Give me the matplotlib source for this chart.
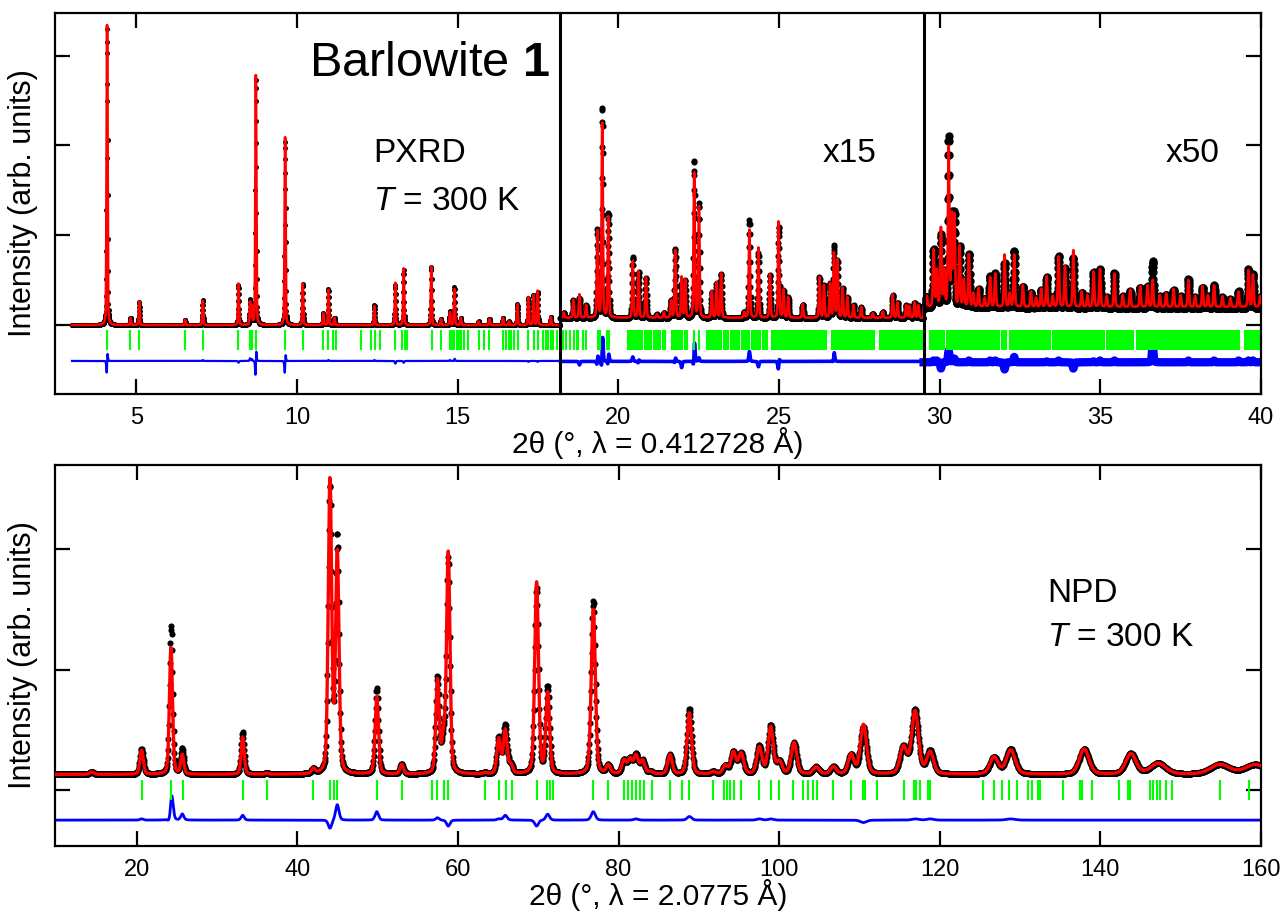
import numpy as np
import matplotlib
matplotlib.use("Agg")
import matplotlib.pyplot as plt
from matplotlib.ticker import MultipleLocator, NullFormatter

plt.rcParams['font.family'] = ['Liberation Sans', 'DejaVu Sans']
plt.rcParams['mathtext.fontset'] = 'custom'
plt.rcParams['mathtext.rm'] = 'Liberation Sans'
plt.rcParams['mathtext.it'] = 'Liberation Sans:italic'
plt.rcParams['mathtext.bf'] = 'Liberation Sans:bold'

# ------------------------------------------------------------------ PXRD data
# three display segments: 3-18.2 (x1), 18.2-29.5 (x15), 29.5-40 (x50)
seg_edges = [3.0, 18.2, 29.5, 40.0]
seg_labels = ["", "x15", "x50"]
seg_background = [0.0, 0.08, 0.20]
seg_obs_background = [0.0, 0.075, 0.185]
seg_fwhm = [0.035, 0.045, 0.05]

# segment 1 peaks: position, calculated top, observed top, observed shift
s1_pos = [4.09, 4.82, 5.09, 6.52, 7.07, 8.18, 8.54, 8.60, 8.72, 9.63, 10.18,
          10.82, 10.98, 11.17, 12.41, 13.06, 13.32, 14.18, 14.48, 14.76, 14.90,
          15.10, 15.65, 15.99, 16.41, 16.60, 16.86, 17.20, 17.36, 17.49, 17.90]
s1_calc = [3.34, 0.08, 0.26, 0.06, 0.27, 0.46, 0.25, 0.20, 2.78, 2.09, 0.46,
           0.13, 0.39, 0.08, 0.21, 0.47, 0.63, 0.65, 0.07, 0.14, 0.40,
           0.08, 0.04, 0.07, 0.08, 0.04, 0.23, 0.31, 0.33, 0.38, 0.09]
s1_obs = [3.30, 0.08, 0.26, 0.06, 0.28, 0.44, 0.28, 0.22, 2.74, 2.04, 0.46,
          0.13, 0.40, 0.08, 0.22, 0.44, 0.61, 0.65, 0.07, 0.15, 0.42,
          0.08, 0.04, 0.07, 0.08, 0.04, 0.23, 0.30, 0.33, 0.37, 0.09]
s1_shift = [0.0008, 0, 0, 0, 0, 0, 0, 0, 0.0012, 0.0012, 0,
            0, 0, 0, 0, 0, 0, 0, 0, 0, 0.0005,
            0, 0, 0, 0, 0, 0, 0, 0, 0, 0]

s2_pos = [18.30, 18.60, 18.79, 19.00, 19.35, 19.50, 19.69, 20.45, 20.63, 20.86,
          21.20, 21.42, 21.64, 21.77, 21.97, 22.08, 22.36, 22.51, 22.91, 23.06,
          23.20, 23.92, 24.08, 24.36, 24.72, 24.99, 25.14, 25.29, 25.74, 26.26,
          26.40, 26.59, 26.71, 26.82, 26.98, 27.13, 27.32, 27.56, 27.92, 28.23,
          28.54, 28.69, 28.96, 29.06, 29.22, 29.34]
s2_calc = [0.14, 0.28, 0.34, 0.22, 1.04, 2.24, 1.20, 0.71, 0.59, 0.53,
           0.12, 0.14, 0.27, 0.83, 0.53, 0.50, 1.69, 1.31, 0.37, 0.47,
           0.57, 0.14, 1.06, 0.86, 0.56, 1.15, 0.39, 0.31, 0.23, 0.53,
           0.44, 0.46, 0.80, 0.72, 0.41, 0.31, 0.22, 0.20, 0.13, 0.15,
           0.34, 0.25, 0.22, 0.21, 0.25, 0.22]
s2_obs = [0.14, 0.28, 0.30, 0.22, 1.06, 2.42, 1.24, 0.76, 0.59, 0.53,
          0.12, 0.14, 0.27, 0.85, 0.46, 0.50, 1.83, 1.35, 0.37, 0.47,
          0.57, 0.14, 1.17, 0.80, 0.56, 1.10, 0.39, 0.31, 0.23, 0.53,
          0.44, 0.46, 0.88, 0.72, 0.41, 0.31, 0.22, 0.20, 0.13, 0.15,
          0.34, 0.25, 0.22, 0.21, 0.25, 0.22]
s2_shift = [0, 0, 0, 0, 0.0015, 0.002, 0.0015, 0, 0.001, 0,
            0, 0, 0, 0.001, 0, 0, 0.002, 0, 0, 0,
            0, 0, 0, 0, 0, 0.0015, 0, 0, 0, 0,
            0, 0, 0.0015, 0, 0, 0, 0, 0, 0, 0,
            0, 0, 0, 0, 0, 0]

s3_pos = [29.60, 29.81, 29.91, 30.04, 30.14, 30.28, 30.38, 30.46, 30.62, 30.75,
          30.91, 31.05, 31.21, 31.40, 31.57, 31.73, 32.02, 32.18, 32.32, 32.59,
          32.84, 33.00, 33.16, 33.33, 33.52, 33.70, 33.90, 34.16, 34.42, 34.60,
          34.79, 34.99, 35.20, 35.44, 35.70, 35.93, 36.24, 36.47, 36.63, 36.85,
          37.05, 37.28, 37.50, 37.74, 37.95, 38.18, 38.35, 38.54, 38.80, 39.05,
          39.30, 39.61, 39.75, 39.97]
s3_calc = [0.32, 0.83, 0.60, 1.07, 0.59, 1.96, 1.20, 1.20, 0.87, 0.50,
           0.78, 0.35, 0.41, 0.30, 0.53, 0.57, 0.78, 0.35, 0.78, 0.44,
           0.37, 0.30, 0.40, 0.54, 0.32, 0.76, 0.65, 0.83, 0.37, 0.33,
           0.59, 0.62, 0.32, 0.57, 0.33, 0.39, 0.43, 0.44, 0.50, 0.33,
           0.35, 0.40, 0.33, 0.50, 0.32, 0.43, 0.33, 0.44, 0.32, 0.30,
           0.37, 0.61, 0.56, 0.32]
s3_obs = [0.32, 0.85, 0.62, 1.00, 0.59, 2.09, 1.22, 1.24, 0.87, 0.50,
          0.80, 0.35, 0.41, 0.30, 0.55, 0.59, 0.70, 0.35, 0.84, 0.44,
          0.37, 0.30, 0.40, 0.55, 0.32, 0.78, 0.65, 0.76, 0.37, 0.33,
          0.60, 0.64, 0.32, 0.59, 0.33, 0.39, 0.43, 0.44, 0.72, 0.33,
          0.35, 0.40, 0.33, 0.52, 0.32, 0.43, 0.33, 0.46, 0.32, 0.30,
          0.39, 0.63, 0.58, 0.32]
s3_shift = [0] * len(s3_pos)

# reflection (hkl) tick positions for PXRD
pxrd_hkl = [4.09, 4.81, 5.09, 6.52, 7.07, 8.18, 8.54, 8.60, 8.72, 9.63, 10.18,
    10.82, 10.98, 11.12, 11.21, 11.99, 12.29, 12.43, 12.57, 13.06, 13.26, 13.35,
    13.43, 14.21, 14.48, 14.76, 14.83, 14.90, 14.97, 15.04, 15.12, 15.19, 15.32,
    15.65, 15.82, 15.99, 16.41, 16.52, 16.60, 16.67, 16.76, 16.88, 17.19, 17.37,
    17.51, 17.67, 17.74, 17.82, 17.89, 17.98, 18.09,
    18.29, 18.37, 18.50, 18.62, 18.71, 18.76, 18.89, 18.99, 19.36, 19.43, 19.64,
    19.72, 20.31, 20.36, 20.42, 20.47, 20.52, 20.57, 20.63, 20.69, 20.75, 20.83,
    20.90, 20.97, 21.03, 21.10, 21.17, 21.23, 21.30, 21.40, 21.46, 21.66, 21.72,
    21.78, 21.85, 21.93, 21.99, 22.06, 22.13, 22.36, 22.51, 22.75, 22.81, 22.86,
    22.92, 22.97, 23.04, 23.10, 23.16, 23.21, 23.28, 23.36, 23.42, 23.50, 23.57,
    23.63, 23.70, 23.77, 23.85, 23.92, 23.98, 24.03, 24.08, 24.15, 24.22, 24.29,
    24.36, 24.42, 24.49, 24.55, 24.62, 24.78, 24.84, 24.90, 24.95, 25.00, 25.07,
    25.13, 25.19, 25.26, 25.32, 25.38, 25.44, 25.50, 25.56, 25.62, 25.68, 25.74,
    25.80, 25.86, 25.92, 25.98, 26.04, 26.10, 26.16, 26.22, 26.28, 26.34, 26.40,
    26.46, 26.64, 26.70, 26.76, 26.82, 26.88, 26.94, 27.00, 27.06, 27.12, 27.18,
    27.24, 27.30, 27.36, 27.42, 27.48, 27.54, 27.60, 27.66, 27.72, 27.78, 27.84,
    27.90, 27.97, 28.15, 28.21, 28.27, 28.33, 28.39, 28.45, 28.51, 28.57, 28.63,
    28.69, 28.75, 28.81, 28.87, 28.93, 28.99, 29.05, 29.11, 29.17, 29.23, 29.29,
    29.35, 29.41, 29.46,
    29.70, 29.76, 29.82, 29.88, 29.94, 30.00, 30.06, 30.12, 30.24, 30.30, 30.36,
    30.42, 30.48, 30.54, 30.60, 30.66, 30.72, 30.78, 30.84, 30.90, 30.96, 31.02,
    31.08, 31.14, 31.20, 31.26, 31.32, 31.38, 31.44, 31.50, 31.56, 31.62, 31.68,
    31.74, 31.80, 31.86, 31.94, 32.00, 32.06, 32.19, 32.25, 32.31, 32.37, 32.43,
    32.49, 32.55, 32.61, 32.67, 32.73, 32.79, 32.85, 32.91, 32.97, 33.03, 33.09,
    33.15, 33.21, 33.27, 33.33, 33.39, 33.44, 33.54, 33.60, 33.66, 33.72, 33.78,
    33.84, 33.90, 33.96, 34.02, 34.08, 34.14, 34.20, 34.26, 34.32, 34.38, 34.44,
    34.50, 34.56, 34.62, 34.68, 34.74, 34.80, 34.86, 34.92, 34.98, 35.04, 35.10,
    35.20, 35.26, 35.32, 35.38, 35.44, 35.50, 35.56, 35.62, 35.68, 35.74, 35.80,
    35.86, 35.92, 35.98, 36.03, 36.14, 36.20, 36.26, 36.32, 36.38, 36.44, 36.50,
    36.56, 36.62, 36.68, 36.74, 36.80, 36.86, 36.92, 36.98, 37.04, 37.10, 37.16,
    37.22, 37.28, 37.34, 37.40, 37.46, 37.52, 37.58, 37.64, 37.70, 37.76, 37.82,
    37.88, 37.94, 38.00, 38.06, 38.12, 38.18, 38.24, 38.30, 38.36, 38.42, 38.48,
    38.54, 38.60, 38.66, 38.72, 38.78, 38.84, 38.90, 38.96, 39.02, 39.08, 39.14,
    39.20, 39.26, 39.32, 39.50, 39.56, 39.62, 39.68, 39.74, 39.80, 39.86, 39.92,
    39.98]

# ------------------------------------------------------------------- NPD data
npd_background = 0.13
npd_pos = [14.40, 20.62, 24.27, 25.68, 33.20, 36.20, 42.00, 44.07, 44.98, 49.90,
           53.00, 57.46, 58.20, 58.80, 63.37, 65.10, 65.90, 66.60, 69.80, 71.18,
           76.86, 78.73, 80.68, 81.43, 82.18, 83.00, 84.00, 86.40, 88.82, 91.80,
           93.30, 94.30, 95.26, 97.54, 98.95, 100.03, 101.86, 104.60, 106.76, 108.96,
           110.50, 115.47, 116.93, 118.80, 126.76, 128.84, 137.98, 143.80, 147.20,
           154.90, 159.30]
npd_calc = [0.15, 0.33, 1.19, 0.29, 0.44, 0.14, 0.17, 2.57, 1.96, 0.77,
            0.21, 0.90, 0.40, 1.96, 0.14, 0.42, 0.49, 0.20, 1.72, 0.80,
            1.50, 0.20, 0.24, 0.25, 0.28, 0.24, 0.15, 0.29, 0.64, 0.15,
            0.20, 0.31, 0.30, 0.35, 0.52, 0.23, 0.39, 0.19, 0.19, 0.29,
            0.54, 0.35, 0.65, 0.31, 0.27, 0.33, 0.34, 0.30, 0.22,
            0.21, 0.21]
npd_obs = [0.15, 0.34, 1.36, 0.34, 0.48, 0.14, 0.17, 2.50, 2.09, 0.84,
           0.21, 0.92, 0.40, 1.91, 0.14, 0.43, 0.53, 0.20, 1.67, 0.85,
           1.57, 0.20, 0.24, 0.25, 0.29, 0.24, 0.15, 0.29, 0.67, 0.15,
           0.20, 0.31, 0.30, 0.36, 0.53, 0.23, 0.39, 0.19, 0.19, 0.29,
           0.52, 0.35, 0.66, 0.32, 0.27, 0.34, 0.34, 0.30, 0.22,
           0.21, 0.21]
npd_fwhm = [0.6, 0.5, 0.45, 0.45, 0.45, 0.5, 0.5, 0.5, 0.5, 0.5,
            0.5, 0.5, 0.5, 0.5, 0.55, 0.55, 0.55, 0.55, 0.55, 0.55,
            0.6, 0.6, 0.65, 0.65, 0.65, 0.65, 0.65, 0.65, 0.65, 0.7,
            0.7, 0.7, 0.75, 0.75, 0.75, 0.75, 0.8, 0.85, 0.85, 0.85,
            0.9, 1.0, 1.0, 1.0, 1.2, 1.3, 1.4, 1.5, 2.2,
            2.8, 3.0]
npd_hkl = [20.62, 24.27, 25.72, 33.20, 36.20, 42.00, 44.07, 44.60, 44.98, 49.90,
    53.10, 56.73, 57.44, 58.27, 58.81, 63.37, 65.16, 65.99, 66.78, 69.89, 71.05,
    71.47, 71.88, 76.87, 78.73, 80.68, 81.22, 81.72, 82.18, 82.68, 83.18, 84.13,
    86.41, 87.87, 88.82, 91.81, 93.14, 93.47, 93.89, 94.43, 95.26, 97.54, 98.95,
    99.99, 101.77, 103.02, 103.64, 104.26, 104.76, 106.75, 108.91, 110.41, 110.70,
    112.23, 115.55, 116.80, 117.04, 117.54, 118.58, 118.79, 125.43, 126.76, 127.80,
    128.67, 129.58, 131.03, 131.45, 132.28, 132.49, 135.39, 137.47, 137.76, 138.92,
    142.37, 143.49, 143.70, 146.19, 146.60, 147.02, 147.43, 148.18, 148.88, 154.90,
    158.55]


def peak(x, c, fwhm, eta=0.3):
    s = fwhm / 2.3548
    g = np.exp(-0.5 * ((x - c) / s) ** 2)
    lo = 1.0 / (1.0 + ((x - c) / (fwhm / 2.0)) ** 2)
    return eta * lo + (1 - eta) * g


def pattern(x, pos, tops, bg, fwhm, shift=None, bg_out=None):
    if bg_out is None:
        bg_out = bg
    y = np.full_like(x, bg_out, dtype=float)
    if np.isscalar(fwhm):
        fwhm = [fwhm] * len(pos)
    if shift is None:
        shift = [0.0] * len(pos)
    for c, t, w, d in zip(pos, tops, fwhm, shift):
        y += (t - bg) * peak(x, c + d, w)
    return y


RED = '#ff0000'
BLUE = '#0000ff'
GREEN = '#00ff00'

fig = plt.figure(figsize=(12.86, 9.11), dpi=100)
W, H = 1286.0, 911.0
axA = fig.add_axes([55 / W, 1 - 394 / H, 1206 / W, 381 / H])
axB = fig.add_axes([55 / W, 1 - 846 / H, 1206 / W, 381 / H])

# ---------------- PXRD panel
seg_peaks = [(s1_pos, s1_calc, s1_obs, s1_shift),
             (s2_pos, s2_calc, s2_obs, s2_shift),
             (s3_pos, s3_calc, s3_obs, s3_shift)]
xs_all, calc_all = [], []
diff_lw = [1.6, 2.6, 6.0]
ms_seg = [3.6, 4.4, 6.0]
for k in range(3):
    xk = np.arange(seg_edges[k], seg_edges[k + 1] + (0.0001 if k == 2 else 0), 0.005)
    pos, cal, obs, sh = seg_peaks[k]
    ck = pattern(xk, pos, cal, seg_background[k], seg_fwhm[k])
    ok = pattern(xk, pos, obs, seg_background[k], seg_fwhm[k], sh,
                 seg_obs_background[k])
    xs_all.append(xk); calc_all.append(ck)
    axA.plot(xk, ok, 'o', color='k', ms=ms_seg[k], mew=0, zorder=2)
    axA.plot(xk, ok - ck - 0.40, '-', color=BLUE, lw=diff_lw[k], zorder=2)

xA = np.concatenate(xs_all)
cA = np.concatenate(calc_all)
axA.plot(xA, cA, '-', color=RED, lw=1.9, zorder=3)
axA.vlines(pxrd_hkl, -0.278, -0.056, color=GREEN, lw=1.5, zorder=2)
for xv in seg_edges[1:3]:
    axA.axvline(xv, color='k', lw=2.2, zorder=4)

axA.set_xlim(2.47, 40.0)
axA.set_ylim(-0.768, 3.474)
axA.xaxis.set_major_locator(MultipleLocator(5))
axA.yaxis.set_major_locator(MultipleLocator(1))
axA.yaxis.set_major_formatter(NullFormatter())

# ---------------- NPD panel
xB = np.arange(10.0, 160.0001, 0.05)
cB = pattern(xB, npd_pos, npd_calc, npd_background, npd_fwhm)
shB = [0.0] * len(npd_pos)
shB[2] = 0.02
oB = pattern(xB, npd_pos, npd_obs, npd_background, npd_fwhm, shB)
axB.plot(xB, oB, 'o', color='k', ms=4.4, mew=0, zorder=2)
axB.plot(xB, cB, '-', color=RED, lw=2.4, zorder=3)
axB.plot(xB, oB - cB - 0.25, '-', color=BLUE, lw=2.0, zorder=2)
axB.vlines(npd_hkl, -0.083, 0.083, color=GREEN, lw=1.5, zorder=2)
axB.set_xlim(9.83, 160.0)
axB.set_ylim(-0.465, 2.70)
axB.xaxis.set_major_locator(MultipleLocator(20))
axB.yaxis.set_major_locator(MultipleLocator(1))
axB.yaxis.set_major_formatter(NullFormatter())

for ax in (axA, axB):
    for sp in ax.spines.values():
        sp.set_linewidth(1.6)
    ax.tick_params(direction='in', length=10.5, width=1.6, top=True, right=True,
                   labelsize=17, pad=9, labelleft=False)
    ax.set_ylabel('Intensity (arb. units)', fontsize=22)
    ax.yaxis.set_label_coords(-0.014, 0.5)

fig.text(658 / W, 1 - 443 / H, '2θ (°, λ = 0.412728 Å)', fontsize=21.5,
         ha='center', va='center')
fig.text(658 / W, 1 - 895 / H, '2θ (°, λ = 2.0775 Å)', fontsize=21.5,
         ha='center', va='center')

fig.text(309 / W, 1 - 63 / H, r'Barlowite $\mathbf{1}$', fontsize=35,
         ha='left', va='center')
fig.text(373 / W, 1 - 154 / H, 'PXRD', fontsize=24, ha='left', va='center')
fig.text(373 / W, 1 - 202 / H, r'$\mathit{T}$ = 300 K', fontsize=24,
         ha='left', va='center')
fig.text(823 / W, 1 - 154 / H, seg_labels[1], fontsize=24, ha='left', va='center')
fig.text(1166 / W, 1 - 154 / H, seg_labels[2], fontsize=24, ha='left', va='center')
fig.text(1047 / W, 1 - 594 / H, 'NPD', fontsize=24, ha='left', va='center')
fig.text(1047 / W, 1 - 637 / H, r'$\mathit{T}$ = 300 K', fontsize=24,
         ha='left', va='center')

fig.savefig('out.png', dpi=100)
